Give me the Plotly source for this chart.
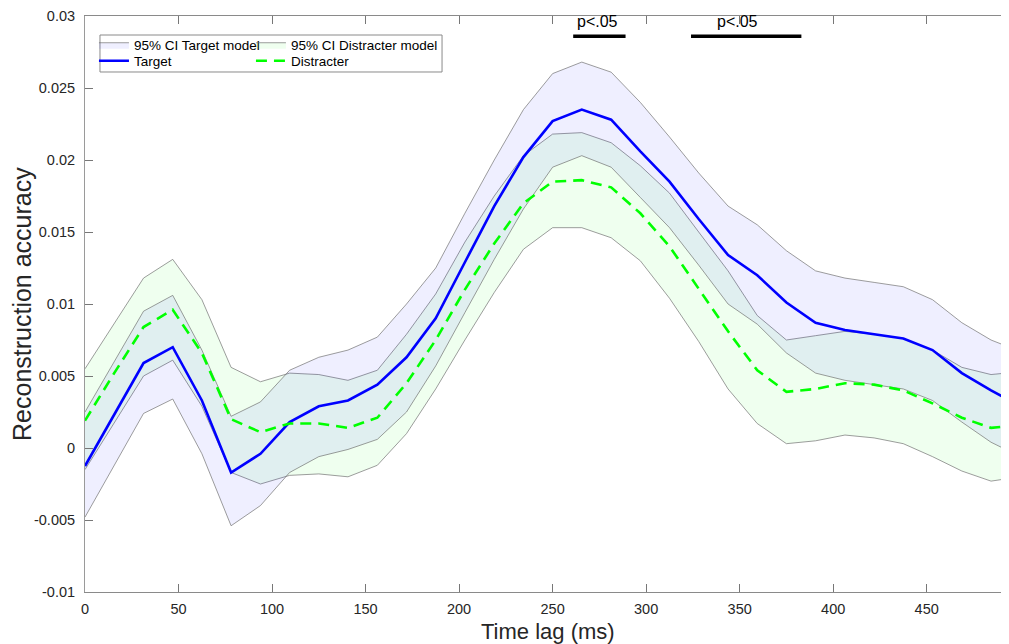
import plotly.graph_objects as go

# ---------------- data ----------------
time_lag = [0, 15.6, 31.3, 46.9, 62.5, 78.1, 93.8, 109.4, 125, 140.6, 156.3,
            171.9, 187.5, 203.1, 218.8, 234.4, 250, 265.6, 281.3, 296.9, 312.5,
            328.1, 343.8, 359.4, 375, 390.6, 406.3, 421.9, 437.5, 453.1, 468.8,
            484.4, 500]

target_mean = [-0.00125, 0.0023, 0.0059, 0.0070, 0.0033, -0.0017, -0.0004, 0.0018,
               0.0029, 0.0033, 0.0044, 0.0063, 0.0090, 0.0129, 0.0168, 0.0202,
               0.0227, 0.0235, 0.0228, 0.0206, 0.0185, 0.0159, 0.0134, 0.0120,
               0.0101, 0.0087, 0.0082, 0.0079, 0.0076, 0.0068, 0.0052, 0.0040, 0.0029]
target_upper = [0.0025, 0.0060, 0.0095, 0.0106, 0.0068, 0.0022, 0.0032, 0.0054,
                0.0063, 0.0068, 0.0077, 0.0100, 0.0125, 0.0163, 0.0200, 0.0235,
                0.0260, 0.0268, 0.0261, 0.0240, 0.0216, 0.0191, 0.0168, 0.0155,
                0.0137, 0.0123, 0.0118, 0.0115, 0.0112, 0.0103, 0.0087, 0.0075, 0.0067]
target_lower = [-0.0048, -0.0012, 0.0024, 0.0034, -0.0004, -0.0054, -0.0040, -0.0017,
                -0.0006, -0.0001, 0.0006, 0.0025, 0.0057, 0.0094, 0.0131, 0.0166,
                0.0195, 0.0203, 0.0195, 0.0174, 0.0153, 0.0127, 0.0100, 0.0086,
                0.0066, 0.0052, 0.0047, 0.0044, 0.0041, 0.0033, 0.0018, 0.0004, -0.0006]

distr_mean = [0.0019, 0.0052, 0.0084, 0.0096, 0.0066, 0.0020, 0.0011, 0.0017,
              0.0017, 0.0014, 0.0021, 0.0045, 0.0075, 0.0110, 0.0142, 0.0170,
              0.0185, 0.0186, 0.0181, 0.0163, 0.0140, 0.0111, 0.0081, 0.0054,
              0.0039, 0.0041, 0.0045, 0.0044, 0.0040, 0.0031, 0.0021, 0.0014, 0.0016]
distr_upper = [0.0055, 0.0086, 0.0118, 0.0131, 0.0103, 0.0056, 0.0046, 0.0052,
               0.0051, 0.0047, 0.0054, 0.0079, 0.0107, 0.0143, 0.0175, 0.0203,
               0.0218, 0.0219, 0.0212, 0.0196, 0.0177, 0.0150, 0.0123, 0.0092,
               0.0075, 0.0078, 0.0081, 0.0079, 0.0076, 0.0068, 0.0056, 0.0051, 0.0053]
distr_lower = [-0.0015, 0.0017, 0.0050, 0.0061, 0.0029, -0.0017, -0.0025, -0.0019,
               -0.0018, -0.0020, -0.0012, 0.0010, 0.0041, 0.0075, 0.0108, 0.0138,
               0.0153, 0.0153, 0.0146, 0.0130, 0.0104, 0.0074, 0.0041, 0.0017,
               0.0003, 0.0005, 0.0009, 0.0007, 0.0003, -0.0006, -0.0016, -0.0023, -0.0020]

sig_start = [261, 324]
sig_end = [289, 383]
sig_level = 0.0286
sig_label_x = [274, 349]
sig_label_level = 0.0296
sig_label = "p<.05"

x_ticks = [0, 50, 100, 150, 200, 250, 300, 350, 400, 450]
y_ticks = [-0.01, -0.005, 0, 0.005, 0.01, 0.015, 0.02, 0.025, 0.03]
y_tick_text = ["-0.01", "-0.005", "0", "0.005", "0.01", "0.015", "0.02", "0.025", "0.03"]

# ---------------- styles ----------------
EDGE = dict(color="rgba(110,110,110,0.85)", width=0.8)
FILL_T = "rgba(0,0,255,0.062)"
FILL_D = "rgba(0,255,0,0.062)"
FONT = "Liberation Sans, Arial, sans-serif"
TXT = "#262626"

fig = go.Figure()

# Distracter CI band
fig.add_trace(go.Scatter(x=time_lag, y=distr_lower, mode="lines", line=EDGE,
                         showlegend=False, hoverinfo="skip"))
fig.add_trace(go.Scatter(x=time_lag, y=distr_upper, mode="lines", line=EDGE,
                         fill="tonexty", fillcolor=FILL_D,
                         name="95% CI Distracter model", legend="legend2"))
# Target CI band
fig.add_trace(go.Scatter(x=time_lag, y=target_lower, mode="lines", line=EDGE,
                         showlegend=False, hoverinfo="skip"))
fig.add_trace(go.Scatter(x=time_lag, y=target_upper, mode="lines", line=EDGE,
                         fill="tonexty", fillcolor=FILL_T,
                         name="95% CI Target model", legend="legend"))
# Means
fig.add_trace(go.Scatter(x=time_lag, y=target_mean, mode="lines",
                         line=dict(color="#0000FF", width=2.6),
                         name="Target", legend="legend3"))
fig.add_trace(go.Scatter(x=time_lag, y=distr_mean, mode="lines",
                         line=dict(color="#00FF00", width=2.6, dash="11px,7px"),
                         name="Distracter", legend="legend4"))

# Significance bars
for s, e in zip(sig_start, sig_end):
    fig.add_trace(go.Scatter(x=[s, e], y=[sig_level, sig_level], mode="lines",
                             line=dict(color="black", width=3.5),
                             showlegend=False, hoverinfo="skip", cliponaxis=False))

annotations = [
    dict(text=sig_label, x=lx, y=sig_label_level, xref="x", yref="y",
         xanchor="center", yanchor="middle", showarrow=False,
         font=dict(family=FONT, size=16, color="black"))
    for lx in sig_label_x
]
annotations += [
    dict(text="Time lag (ms)", xref="paper", yref="paper", x=0.501, y=-0.0694,
         xanchor="center", yanchor="middle", showarrow=False,
         font=dict(family=FONT, size=22, color=TXT)),
    dict(text="Reconstruction accuracy", xref="paper", yref="paper",
         x=-0.0682, y=0.5, xanchor="center", yanchor="middle", textangle=-90,
         showarrow=False, font=dict(family=FONT, size=25, color=TXT)),
]

leg_common = dict(bgcolor="rgba(0,0,0,0)", borderwidth=0,
                  font=dict(family=FONT, size=13.5, color="black"),
                  itemwidth=30, xanchor="left", yanchor="middle",
                  orientation="v")

col1_x, col2_x = 0.0097, 0.1796
row1_y, row2_y = 0.9497, 0.922

# the browser page adds an 8px body margin: figure is sized/offset to fit
fig.update_layout(
    width=1001, height=636,
    margin=dict(l=77, r=0, t=8, b=52, autoexpand=False),
    paper_bgcolor="white", plot_bgcolor="white",
    font=dict(family=FONT, color=TXT),
    legend=dict(x=col1_x, y=row1_y, **leg_common),
    legend2=dict(x=col2_x, y=row1_y, **leg_common),
    legend3=dict(x=col1_x, y=row2_y, **leg_common),
    legend4=dict(x=col2_x, y=row2_y, **leg_common),
    shapes=[dict(type="rect", xref="paper", yref="paper",
                 x0=0.0162, x1=0.3864, y0=0.9028, y1=0.967,
                 line=dict(color="#8a8a8a", width=1), fillcolor="white",
                 layer="below")],
    annotations=annotations,
    xaxis=dict(range=[0, 494], tickvals=x_ticks, ticks="inside", ticklen=8,
               tickcolor="#777", showline=True, linecolor="#8a8a8a", linewidth=1,
               mirror="ticks", showgrid=False, zeroline=False, automargin=False,
               tickfont=dict(family=FONT, size=14.5, color=TXT),
               ticklabelstandoff=4),
    yaxis=dict(range=[-0.01, 0.03], tickvals=y_ticks, ticktext=y_tick_text,
               ticks="inside", ticklen=8, tickcolor="#777", showline=True,
               linecolor="#9a9a9a", linewidth=1, mirror="ticks", showgrid=False,
               zeroline=False, ticklabelstandoff=6, automargin=False,
               tickfont=dict(family=FONT, size=14.5, color=TXT)),
)

fig.write_html("out.html")
